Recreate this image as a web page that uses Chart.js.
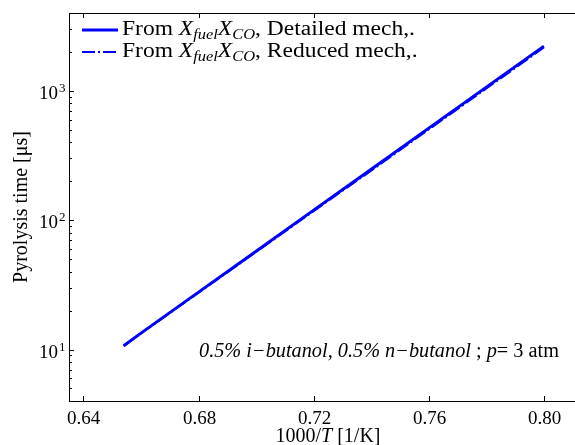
<!DOCTYPE html>
<html>
<head>
<meta charset="utf-8">
<script src="https://cdn.jsdelivr.net/npm/chart.js@4.4.1/dist/chart.umd.min.js"></script>
<style>
  html, body { margin: 0; padding: 0; background: #fff; overflow: hidden; }
  #wrap { width: 575px; height: 445px; }
</style>
</head>
<body>
<div id="wrap"><canvas id="pyroChart" width="575" height="445"></canvas></div>
<script>
// 1000/T [1/K] and pyrolysis time [us]
const invT = [0.654, 0.66, 0.68, 0.70, 0.72, 0.74, 0.76, 0.78, 0.80];
const tauDetailed = [10.7, 13.4, 27.8, 57.5, 119.6, 248, 515, 1069, 2218];
const tauReduced = [10.6, 13.3, 27.5, 56.8, 117.5, 242, 503, 1042, 2165];

const seriesNames = ['Detailed mech,.', 'Reduced mech,.'];
const xTicks = [0.64, 0.68, 0.72, 0.76, 0.80];
const xTickLabels = ['0.64', '0.68', '0.72', '0.76', '0.80'];
const yDecades = [1, 2, 3];

const SERIF = '"Liberation Serif", "Times New Roman", serif';
const BLUE = '#0000ff';

function toPoints(xs, ys) {
    return xs.map((v, i) => ({ x: v, y: ys[i] }));
}

function partFont(p, size) {
    if (p.s === 'sub') return `italic ${Math.round(size * 0.7)}px ${SERIF}`;
    return `${p.s === 'it' ? 'italic ' : ''}${size}px ${SERIF}`;
}

function richWidth(ctx, parts, size) {
    let w = 0;
    parts.forEach(p => {
        ctx.font = partFont(p, size);
        w += ctx.measureText(p.t).width;
    });
    return w;
}

// draws a run of text pieces (roman, italic, subscript), optionally stretched to a width
function drawRich(ctx, parts, x, baseline, size, fitWidth) {
    const natural = richWidth(ctx, parts, size);
    const sx = fitWidth ? fitWidth / natural : 1;
    ctx.save();
    ctx.translate(x, baseline);
    ctx.scale(sx, 1);
    let cx = 0;
    parts.forEach(p => {
        ctx.font = partFont(p, size);
        ctx.fillText(p.t, cx, p.s === 'sub' ? size * 0.22 : 0);
        cx += ctx.measureText(p.t).width;
    });
    ctx.restore();
}

const plotDecor = {
    id: 'plotDecor',
    afterDraw(chart) {
        const { ctx, chartArea: a, scales: { x, y } } = chart;
        ctx.save();
        ctx.strokeStyle = '#000';
        ctx.fillStyle = '#000';
        ctx.lineWidth = 1;

        const seg = (x1, y1, x2, y2) => {
            ctx.beginPath();
            ctx.moveTo(x1, y1);
            ctx.lineTo(x2, y2);
            ctx.stroke();
        };

        // axes box (right edge falls outside the canvas)
        seg(a.left + 0.5, a.top + 0.5, chart.width, a.top + 0.5);
        seg(a.left + 0.5, a.bottom + 0.5, chart.width, a.bottom + 0.5);
        seg(a.left + 0.5, a.top, a.left + 0.5, a.bottom + 1);

        // x ticks, inward on bottom and top
        ctx.font = `19px ${SERIF}`;
        ctx.textAlign = 'center';
        ctx.textBaseline = 'alphabetic';
        xTicks.forEach((v, i) => {
            const px = Math.round(x.getPixelForValue(v)) + 0.5;
            seg(px, a.bottom, px, a.bottom - 5);
            seg(px, a.top, px, a.top + 5);
            ctx.fillText(xTickLabels[i], px, a.bottom + 23);
        });

        // y log ticks: majors at decades, minors in between
        for (let d = 0; d <= 3; d++) {
            for (let m = 1; m <= 9; m++) {
                const v = m * Math.pow(10, d);
                if (v < y.min || v > y.max) continue;
                const py = Math.round(y.getPixelForValue(v)) + 0.5;
                seg(a.left, py, a.left + (m === 1 ? 5 : 3), py);
            }
        }
        yDecades.forEach(d => {
            const py = y.getPixelForValue(Math.pow(10, d));
            ctx.textAlign = 'right';
            ctx.font = `19px ${SERIF}`;
            ctx.fillText('10', a.left - 11, py + 8);
            ctx.textAlign = 'left';
            ctx.font = `13px ${SERIF}`;
            ctx.fillText(String(d), a.left - 10, py + 1);
        });

        // axis titles
        ctx.textAlign = 'left';
        const xTitle = [{ t: '1000/', s: 'rm' }, { t: 'T', s: 'it' }, { t: ' [1/K]', s: 'rm' }];
        drawRich(ctx, xTitle, 328 - richWidth(ctx, xTitle, 20) / 2, 442, 20);

        ctx.save();
        ctx.translate(27, (a.top + a.bottom) / 2);
        ctx.rotate(-Math.PI / 2);
        ctx.textAlign = 'center';
        ctx.font = `20px ${SERIF}`;
        ctx.fillText('Pyrolysis time [\u03bcs]', 0, 0);
        ctx.restore();

        // legend, top left inside the axes
        const rows = [
            { dash: [], width: 3 },
            { dash: [13, 3, 2, 3], width: 2 }
        ];
        const legendParts = name => [
            { t: 'From ', s: 'rm' },
            { t: 'X', s: 'it' },
            { t: 'fuel', s: 'sub' },
            { t: 'X', s: 'it' },
            { t: 'CO', s: 'sub' },
            { t: ', ' + name, s: 'rm' }
        ];
        const stretch = 293 / richWidth(ctx, legendParts(seriesNames[0]), 20);
        rows.forEach((r, i) => {
            const ly = a.top + 17 + i * 22;
            ctx.save();
            ctx.strokeStyle = BLUE;
            ctx.lineWidth = r.width;
            ctx.setLineDash(r.dash);
            seg(a.left + 13, ly, a.left + 49, ly);
            ctx.restore();
            ctx.textAlign = 'left';
            const parts = legendParts(seriesNames[i]);
            drawRich(ctx, parts, a.left + 53, ly + 5, 20, richWidth(ctx, parts, 20) * stretch);
        });

        // mixture and pressure note
        drawRich(ctx, [
            { t: '0.5% i\u2212butanol, 0.5% n\u2212butanol', s: 'it' },
            { t: ' ; ', s: 'rm' },
            { t: 'p', s: 'it' },
            { t: '= 3 atm', s: 'rm' }
        ], 199, 357, 20, 360);

        ctx.restore();
    }
};

new Chart(document.getElementById('pyroChart'), {
    type: 'line',
    data: {
        datasets: [
            {
                label: seriesNames[0],
                data: toPoints(invT, tauDetailed),
                borderColor: BLUE,
                borderWidth: 3,
                pointRadius: 0,
                tension: 0
            },
            {
                label: seriesNames[1],
                data: toPoints(invT, tauReduced),
                borderColor: BLUE,
                borderWidth: 2,
                borderDash: [13, 3, 2, 3],
                pointRadius: 0,
                tension: 0
            }
        ]
    },
    options: {
        responsive: false,
        animation: false,
        devicePixelRatio: 1,
        layout: { padding: { top: 13, right: 0, left: 0, bottom: 0 } },
        plugins: {
            legend: { display: false },
            tooltip: { enabled: false }
        },
        scales: {
            x: {
                type: 'linear',
                min: 0.635,
                max: 0.8108,
                ticks: { display: false },
                grid: { display: false },
                border: { display: false },
                afterFit: s => { s.height = 44; }
            },
            y: {
                type: 'logarithmic',
                min: 4,
                max: 4000,
                ticks: { display: false },
                grid: { display: false },
                border: { display: false },
                afterFit: s => { s.width = 69; }
            }
        }
    },
    plugins: [plotDecor]
});
</script>
</body>
</html>
